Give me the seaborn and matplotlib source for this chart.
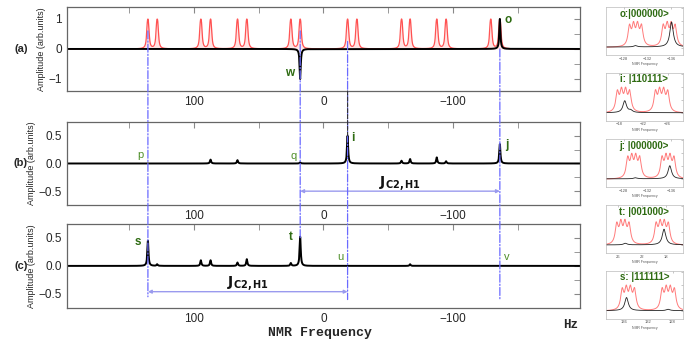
import numpy as np
import pandas as pd
import matplotlib
matplotlib.use('Agg')
import matplotlib.pyplot as plt
import seaborn as sns
from matplotlib.patches import ConnectionPatch
from matplotlib.ticker import MultipleLocator

# simulated multiplet centres (Hz) drawn in red on panel (a)
sim_centres = [135.5, 128.3, 94.6, 87.1, 66.3, 59.1, 25.1, 17.9,
               -18.7, -25.9, -60.4, -67.0, -87.6, -94.8, -129.3, -136.3]
multiplet_offsets = [-1.2, -0.4, 0.4, 1.2]

# experimental peaks: position (Hz) and amplitude
peaks_a_freq = [17.9, -136.3]
peaks_a_amp = [-1.0, 1.0]
peaks_b_freq = [87.1, 66.3, 17.9, -18.7, -60.4, -67.0, -87.6, -94.8, -136.3]
peaks_b_amp = [0.07, 0.06, 0.02, 0.50, 0.05, 0.08, 0.11, 0.04, 0.35]
peaks_c_freq = [135.5, 128.3, 94.6, 87.1, 66.3, 59.1, 25.1, 17.9, -67.0]
peaks_c_amp = [0.45, 0.03, 0.10, 0.10, 0.06, 0.12, 0.05, 0.52, 0.03]

# peak labels per panel: text, freq, amplitude, strong
labels_a = [('w', 26, -0.8, True), ('o', -143, 0.95, True)]
labels_b = [('p', 141, 0.16, False), ('q', 23, 0.14, False),
            ('i', -23, 0.46, True), ('j', -142, 0.34, True)]
labels_c = [('s', 143, 0.43, True), ('t', 25, 0.52, True),
            ('u', -13, 0.16, False), ('v', -142, 0.16, False)]

# guide lines running down through the panels
guide_freq = [135.5, 17.9, -18.7, -136.3]
guide_top = [0.6, 0.6, 0.25, 0.0]
guide_bottom = [-0.55, 0.5, -0.6, -0.6]

# coupling arrows (start, end, level) for panels (b) and (c)
j_arrow_b = (17.9, -136.3, -0.5)
j_arrow_c = (135.5, -18.7, -0.46)

# zoomed insets on the right
inset_titles = ['o:|000000>', 'i: |110111>', 'j: |000000>', 't: |001000>', 's: |111111>']
inset_xlims = [(-125, -138), (-15.8, -28.5), (-125, -138), (28, 15.3), (139, 126.3)]
inset_ticks = [[-128, -132, -136], [-18, -22, -26], [-128, -132, -136], [26, 22, 18], [136, 132, 128]]
inset_red = [[-130.0, -135.7], [-18.7, -25.0], [-129.7, -135.5], [25.2, 18.7], [135.3, 128.7]]
inset_black_freq = [[-130.0, -136.1], [-18.9, -19.9], [-130.0, -135.8], [24.8, 18.4], [135.6, 128.7]]
inset_black_amp = [[0.05, 0.95], [0.45, 0.08], [0.04, 0.5], [0.06, 0.6], [0.5, 0.05]]

GREEN = '#2e6b12'
LIGHT_GREEN = '#4f8f2a'
GUIDE = '#6a6aff'


def lorentz(f, centres, amps, w):
    out = np.zeros_like(f)
    for c, a in zip(centres, amps):
        out += a * w ** 2 / ((f - c) ** 2 + w ** 2)
    return out


def multiplet(f, centres, w, spread=1.0):
    lines = [c + o * spread for c in centres for o in multiplet_offsets]
    y = lorentz(f, lines, [1.0] * len(lines), w)
    return y / y.max()


def style_main(ax, ylim, major, minor):
    ax.set_xlim(198, -198)
    ax.set_ylim(*ylim)
    ax.xaxis.set_major_locator(MultipleLocator(100))
    ax.xaxis.set_minor_locator(MultipleLocator(50))
    ax.yaxis.set_major_locator(MultipleLocator(major))
    ax.yaxis.set_minor_locator(MultipleLocator(minor))
    ax.tick_params(which='both', direction='in', top=True, right=True,
                   color='#888888', labelsize=8.5)
    ax.tick_params(which='major', length=4)
    ax.tick_params(which='minor', length=4)
    for s in ax.spines.values():
        s.set_color('#666666')
        s.set_linewidth(0.9)
    ax.set_xlabel('')
    ax.set_ylabel('Amplitude (arb.units)', fontsize=6.5, labelpad=2)


def put_labels(ax, labels):
    for txt, fx, fy, strong in labels:
        ax.text(fx, fy, txt, ha='center', va='center',
                fontsize=8.5 if strong else 8, fontweight='bold' if strong else 'normal',
                color=GREEN if strong else LIGHT_GREEN)


sns.set_style('white')
plt.rcParams['font.family'] = ['Liberation Sans', 'DejaVu Sans']

fig = plt.figure(figsize=(6.92, 3.46), dpi=100)
ax_a = fig.add_axes([0.0968, 0.737, 0.741, 0.243])
ax_b = fig.add_axes([0.0968, 0.4075, 0.741, 0.240])
ax_c = fig.add_axes([0.0968, 0.110, 0.741, 0.243])

freq = np.arange(-200, 200.05, 0.1)

# panel (a): simulated red multiplets and experimental trace
red = multiplet(freq, sim_centres, 0.6, spread=0.55)
ax_a.fill_between(freq, 0, red, color='#ffb4b4', alpha=0.35, lw=0)
sns.lineplot(x=freq, y=red, ax=ax_a, color='#ff2a2a', lw=0.9, alpha=0.8)
spec_a = lorentz(freq, peaks_a_freq, peaks_a_amp, 0.5)
sns.lineplot(x=freq, y=spec_a, ax=ax_a, color='black', lw=1.4)
style_main(ax_a, (-1.4, 1.4), 1, 0.5)
put_labels(ax_a, labels_a)

# panel (b)
spec_b = lorentz(freq, peaks_b_freq, peaks_b_amp, 0.5)
sns.lineplot(x=freq, y=spec_b, ax=ax_b, color='black', lw=1.4)
style_main(ax_b, (-0.75, 0.75), 0.5, 0.25)
put_labels(ax_b, labels_b)

# panel (c)
spec_c = lorentz(freq, peaks_c_freq, peaks_c_amp, 0.5)
sns.lineplot(x=freq, y=spec_c, ax=ax_c, color='black', lw=1.4)
style_main(ax_c, (-0.75, 0.75), 0.5, 0.25)
put_labels(ax_c, labels_c)

# guide lines across panels
for gx, y0, y1 in zip(guide_freq, guide_top, guide_bottom):
    con = ConnectionPatch(xyA=(gx, y0), coordsA=ax_a.transData,
                          xyB=(gx, y1), coordsB=ax_c.transData,
                          color=GUIDE, lw=0.9, linestyle='-.', zorder=5)
    fig.add_artist(con)
con = ConnectionPatch(xyA=(guide_freq[2], -1.4), coordsA=ax_a.transData,
                      xyB=(guide_freq[2], 0.5), coordsB=ax_b.transData,
                      color='#333333', lw=0.8, linestyle='--', zorder=6)
fig.add_artist(con)

# coupling arrows
for ax, (x0, x1, lvl) in [(ax_b, j_arrow_b), (ax_c, j_arrow_c)]:
    ax.annotate('', xy=(x1, lvl), xytext=(x0, lvl),
                arrowprops=dict(arrowstyle='<|-|>', color='#9a9aee', lw=1.0,
                                mutation_scale=5, shrinkA=0, shrinkB=0))
    ax.text((x0 + x1) / 2, lvl + 0.14, r'$\mathbf{J}_{\mathbf{C2,H1}}$',
            ha='center', va='center', fontsize=10, color='#111111')

# panel tags and axis labels
for ax, tag in [(ax_a, '(a)'), (ax_b, '(b)'), (ax_c, '(c)')]:
    y_fig = fig.transFigure.inverted().transform(ax.transData.transform((0, 0)))[1]
    fig.text(0.03, y_fig, tag, ha='center', va='center', fontsize=8, fontweight='bold')

fig.text(0.463, 0.038, 'NMR Frequency', ha='center', va='center',
         family='Liberation Mono', fontweight='bold', fontsize=9.5)
fig.text(0.824, 0.06, 'Hz', ha='center', va='center',
         family='Liberation Mono', fontweight='bold', fontsize=9)

# insets
inset_bottoms = [0.840, 0.650, 0.459, 0.268, 0.078]
for k in range(len(inset_titles)):
    ax = fig.add_axes([0.8757, inset_bottoms[k], 0.111, 0.140])
    lo, hi = inset_xlims[k]
    f = np.linspace(min(lo, hi), max(lo, hi), 800)
    r = multiplet(f, inset_red[k], 0.3, spread=0.85)
    b = lorentz(f, inset_black_freq[k], inset_black_amp[k], 0.35) + 0.02
    sns.lineplot(x=f, y=r, ax=ax, color='#ff5a5a', lw=0.7, alpha=0.8)
    sns.lineplot(x=f, y=b, ax=ax, color='#222222', lw=0.6)
    ax.set_xlim(lo, hi)
    ax.set_ylim(-0.3, 1.55)
    ax.set_xticks(inset_ticks[k])
    ax.set_xticklabels([f'{t:g}'.replace('-', '\u2212') for t in inset_ticks[k]])
    ax.set_yticks([0, 0.5, 1.0, 1.5])
    ax.set_yticklabels([])
    ax.tick_params(direction='in', length=1.5, width=0.4, labelsize=3, pad=1,
                   color='#999999', labelcolor='#555555', top=True, right=True)
    ax.set_xlabel('NMR Frequency', fontsize=2.5, labelpad=1, color='#555555')
    ax.set_ylabel('')
    for s in ax.spines.values():
        s.set_color('#bbbbbb')
        s.set_linewidth(0.5)
    ax.text(0.5, 0.86, inset_titles[k], transform=ax.transAxes, ha='center', va='center',
            fontsize=7, fontweight='bold', color=GREEN)

fig.savefig('out.png', dpi=100)
